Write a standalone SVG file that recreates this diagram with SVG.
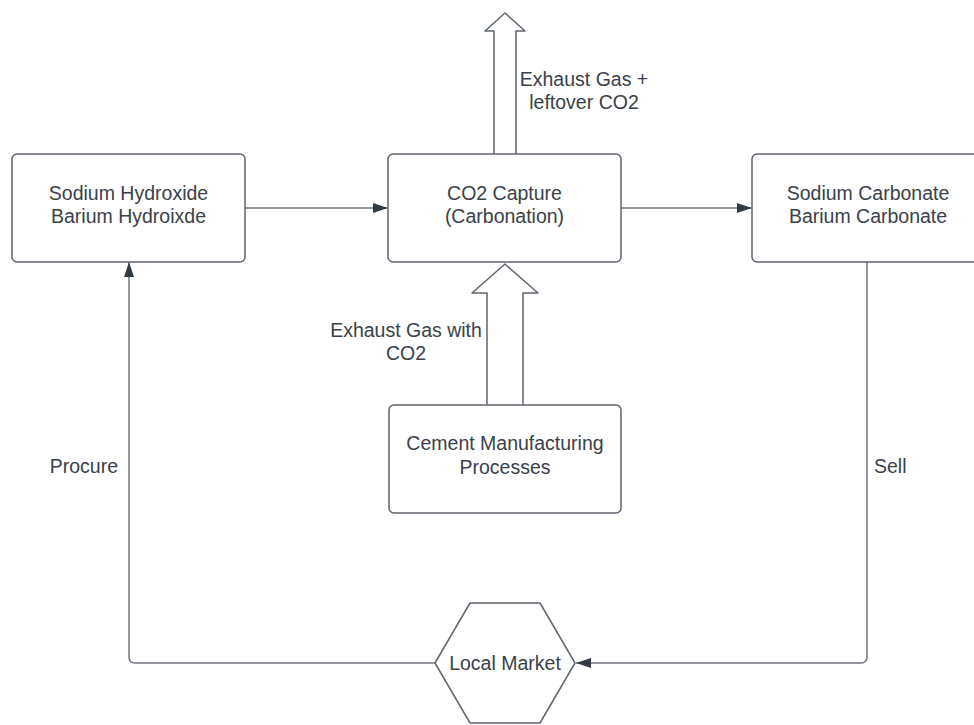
<svg xmlns="http://www.w3.org/2000/svg" width="974" height="725" viewBox="0 0 974 725">
<defs>
<style>
.box{fill:#ffffff;stroke:#5f6670;stroke-width:1.5}
.blk{fill:#ffffff;stroke:#5f6670;stroke-width:1.5;stroke-linejoin:round}
.ln{fill:none;stroke:#6f7682;stroke-width:1.5}
.t{font-family:"Liberation Sans",Arial,sans-serif;font-size:19.5px;fill:#3a414a;text-anchor:middle}
</style>
<marker id="ah" viewBox="0 0 15 10" refX="15" refY="5" markerWidth="15" markerHeight="10" markerUnits="userSpaceOnUse" orient="auto">
<path d="M0,0 L15,5 L0,10 Z" fill="#333a44"/>
</marker>
</defs>
<rect width="974" height="725" fill="#ffffff"/>
<g id="connectors">
<line class="ln" x1="245" y1="208" x2="388" y2="208" marker-end="url(#ah)"/>
<line class="ln" x1="621" y1="208" x2="752" y2="208" marker-end="url(#ah)"/>
<path class="ln" d="M867,262 L867,657 Q867,663 861,663 L576,663" marker-end="url(#ah)"/>
<path class="ln" d="M435,663 L135,663 Q129,663 129,657 L129,262" marker-end="url(#ah)"/>
<path class="blk" d="M494,154 L494,31 L485,31 L505,13 L525,31 L516,31 L516,154"/>
<path class="blk" d="M487,405 L487,293 L472,293 L505,264 L538,293 L523,293 L523,405"/>
<text class="t"><tspan x="584" y="86">Exhaust Gas +</tspan><tspan x="584" y="109">leftover CO2</tspan></text>
<text class="t"><tspan x="406" y="337">Exhaust Gas with</tspan><tspan x="406" y="360">CO2</tspan></text>
<text class="t" x="118" y="473" style="text-anchor:end">Procure</text>
<text class="t" x="874" y="473" style="text-anchor:start">Sell</text>
</g>
<g id="hydroxide">
<rect class="box" x="12" y="154" width="233" height="108" rx="5"/>
<text class="t"><tspan x="128.5" y="200">Sodium Hydroxide</tspan><tspan x="128.5" y="223">Barium Hydroixde</tspan></text>
</g>
<g id="capture">
<rect class="box" x="388" y="154" width="233" height="108" rx="5"/>
<text class="t"><tspan x="504.5" y="200">CO2 Capture</tspan><tspan x="504.5" y="223">(Carbonation)</tspan></text>
</g>
<g id="carbonate">
<rect class="box" x="752" y="154" width="233" height="108" rx="5"/>
<text class="t"><tspan x="868" y="200">Sodium Carbonate</tspan><tspan x="868" y="223">Barium Carbonate</tspan></text>
</g>
<g id="cement">
<rect class="box" x="389" y="405" width="232" height="108" rx="5"/>
<text class="t"><tspan x="505" y="450">Cement Manufacturing</tspan><tspan x="505" y="474">Processes</tspan></text>
</g>
<g id="market">
<path class="box" stroke-linejoin="round" d="M470,603 L540,603 L575,663 L540,723 L470,723 L435,663 Z"/>
<text class="t" x="505" y="670">Local Market</text>
</g>
</svg>
